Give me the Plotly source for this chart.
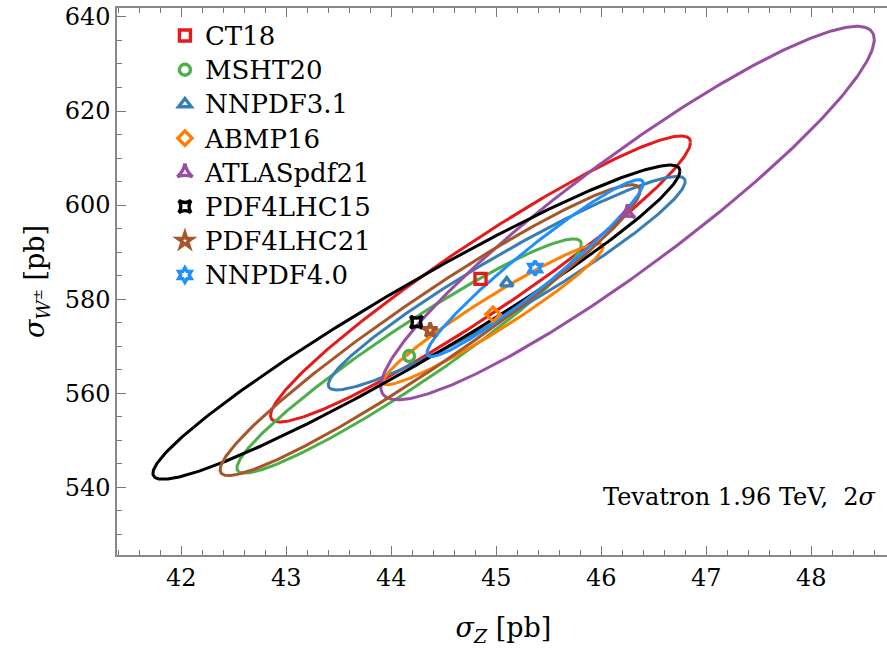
import numpy as np
import plotly.graph_objects as go

# PDF sets and their central predictions (sigma_Z, sigma_W) in pb
pdf_sets = ["CT18", "MSHT20", "NNPDF3.1", "ABMP16", "ATLASpdf21",
            "PDF4LHC15", "PDF4LHC21", "NNPDF4.0"]
sigma_z = [44.85, 44.17, 45.10, 44.97, 46.25, 44.24, 44.37, 45.37]
sigma_w = [584.3, 567.9, 583.4, 576.8, 598.3, 575.1, 573.4, 586.6]
# 2-sigma half extents of the ellipses and correlation
dz = [2.00, 1.64, 1.70, 1.05, 2.35, 2.51, 2.00, 1.03]
dw = [30.4, 24.9, 22.7, 15.0, 39.7, 33.4, 30.9, 18.8]
rho = [0.955, 0.955, 0.952, 0.96, 0.93, 0.962, 0.96, 0.96]

colors = ["#e41a1c", "#4daf4a", "#377eb8", "#ff7f00", "#984ea3",
          "#000000", "#a65628", "#1e8fff"]
symbols = ["square-open", "circle-open", "triangle-up-open", "diamond-open",
           "star-triangle-up-open", "star-square-open", "star-open",
           "hexagram-open"]

x_ticks = [42, 43, 44, 45, 46, 47, 48]
y_ticks = [540, 560, 580, 600, 620, 640]

FONT = "DejaVu Serif"
fig = go.Figure()
t = np.linspace(0, 2 * np.pi, 400)
for i, name in enumerate(pdf_sets):
    ex = sigma_z[i] + dz[i] * np.cos(t)
    ey = sigma_w[i] + dw[i] * (rho[i] * np.cos(t) + np.sqrt(1 - rho[i] ** 2) * np.sin(t))
    fig.add_trace(go.Scatter(x=ex, y=ey, mode="lines",
                             line=dict(color=colors[i], width=3),
                             legendgroup=name, showlegend=False, hoverinfo="skip"))
for i, name in enumerate(pdf_sets):
    fig.add_trace(go.Scatter(x=[sigma_z[i]], y=[sigma_w[i]], mode="markers",
                             name='<span style="font-size:26px">' + name + '</span>',
                             legendgroup=name,
                             marker=dict(symbol=symbols[i], size=11, color=colors[i],
                                         line=dict(width=3.4, color=colors[i]))))

axis_common = dict(showgrid=False, zeroline=False, showline=True, linecolor="#888888",
                   linewidth=1.5, ticks="inside", ticklen=9,
                   tickwidth=1.2, tickcolor="#777777", automargin=False,
                   tickfont=dict(family=FONT, size=24, color="black"),
                   minor=dict(ticks="inside", ticklen=5, tickwidth=1, tickcolor="#777777"))

fig.update_xaxes(range=[41.388, 48.750], tickvals=x_ticks,
                 ticktext=[str(v) for v in x_ticks],
                 minor_dtick=0.2, mirror="ticks",
                 title=dict(text="<i>σ<sub>Z</sub></i> [pb]", standoff=28,
                            font=dict(family=FONT, size=27, color="black")),
                 **axis_common)
fig.update_yaxes(range=[525.6, 641.9], tickvals=y_ticks,
                 ticktext=[str(v) for v in y_ticks],
                 minor_dtick=5, mirror=False,
                 title=dict(text="<i>σ<sub>W<sup>±</sup></sub></i> [pb]", standoff=12,
                            font=dict(family=FONT, size=27, color="black")),
                 **axis_common)

fig.add_annotation(xref="paper", yref="paper", x=0.985, y=0.106,
                   xanchor="right", yanchor="middle", showarrow=False,
                   text="Tevatron 1.96 TeV,  2<i>σ</i>",
                   font=dict(family=FONT, size=24, color="black"))

fig.update_layout(width=890, height=650,
                  margin=dict(l=117, r=0, t=8, b=95, autoexpand=False),
                  plot_bgcolor="white", paper_bgcolor="white",
                  font=dict(family=FONT, color="black"),
                  legend=dict(x=0.062, y=0.99, xanchor="left", yanchor="top",
                              bgcolor="rgba(0,0,0,0)", borderwidth=0,
                              font=dict(family=FONT, size=24, color="black"),
                              itemwidth=30, tracegroupgap=0),
                  showlegend=True)

fig.write_html("out.html", config={"displayModeBar": False},
               post_script="document.body.style.margin='0';document.body.style.overflow='hidden';")
